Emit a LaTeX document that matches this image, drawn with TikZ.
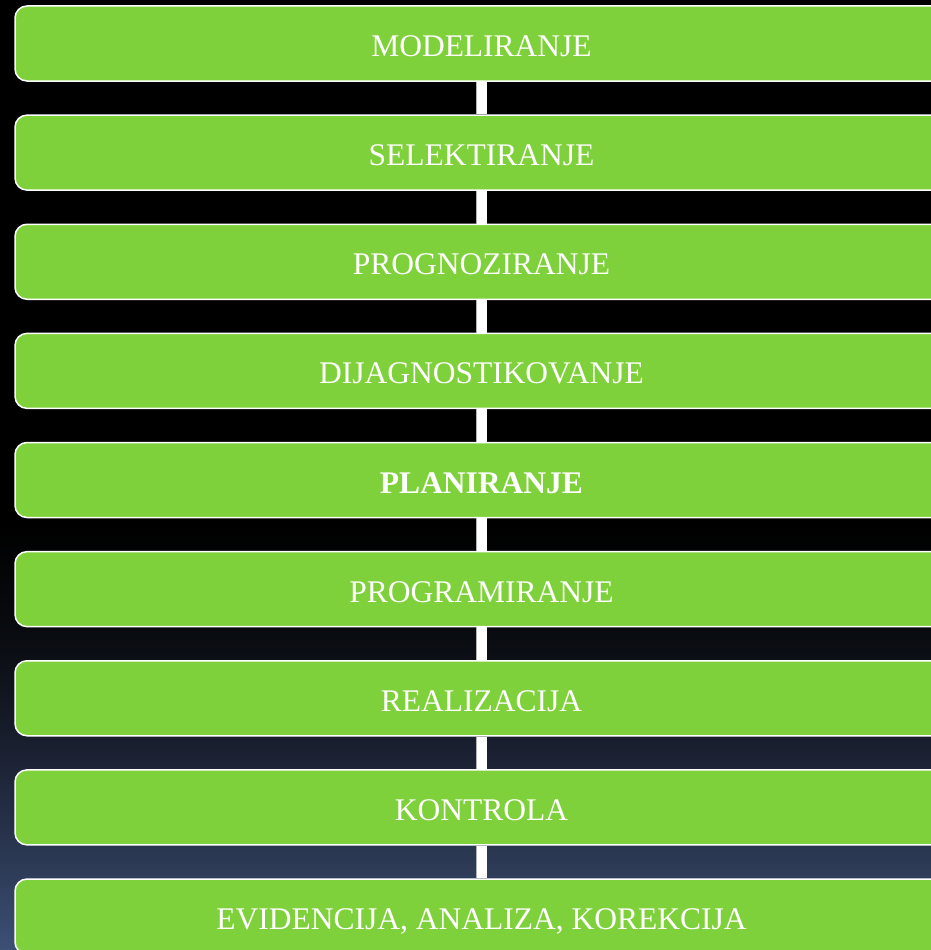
\documentclass[tikz,border=0pt]{standalone}
\usepackage{fontspec}
\setmainfont{Liberation Serif}
\usepackage{tikz}

\definecolor{boxgreen}{RGB}{127,209,59}
\definecolor{bgA}{RGB}{61,80,117}
\definecolor{bgB}{RGB}{44,58,85}
\definecolor{bgC}{RGB}{28,34,52}
\definecolor{bgD}{RGB}{10,13,18}
\pgfdeclareverticalshading{bgshade}{100bp}{color(0bp)=(bgA); color(25bp)=(bgA); color(29.5bp)=(bgB); color(35bp)=(bgC); color(41bp)=(bgD); color(47.5bp)=(black); color(100bp)=(black)}

\tikzset{
  stepbox/.style={draw=white, line width=1.5pt, fill=boxgreen, rounded corners=12pt,
    minimum width=933pt, minimum height=75pt, text=white,
    text height=26pt, text depth=0pt,
    font=\fontsize{31.5}{36}\selectfont},
  link/.style={draw=gray!60, line width=0.8pt, double=white, double distance=10pt}
}

\begin{document}
\begin{tikzpicture}[x=1pt,y=-1pt]
\useasboundingbox (0,0) rectangle (931,950);
\shade[shading=bgshade] (0,0) rectangle (931,950);

\foreach \t [count=\i] in {MODELIRANJE, SELEKTIRANJE, PROGNOZIRANJE,
  DIJAGNOSTIKOVANJE, {\textbf{PLANIRANJE}}, PROGRAMIRANJE, REALIZACIJA,
  KONTROLA, {EVIDENCIJA, ANALIZA, KOREKCIJA}} {
\node[stepbox] (b\i) at (481.5,{43.5+109.125*(\i-1)}) {\t};
}

% veze izmedju koraka
\foreach \i [evaluate=\i as \j using int(\i+1)] in {1,...,8} {
\draw[link] (b\i.south) -- (b\j.north);
}
\end{tikzpicture}
\end{document}
